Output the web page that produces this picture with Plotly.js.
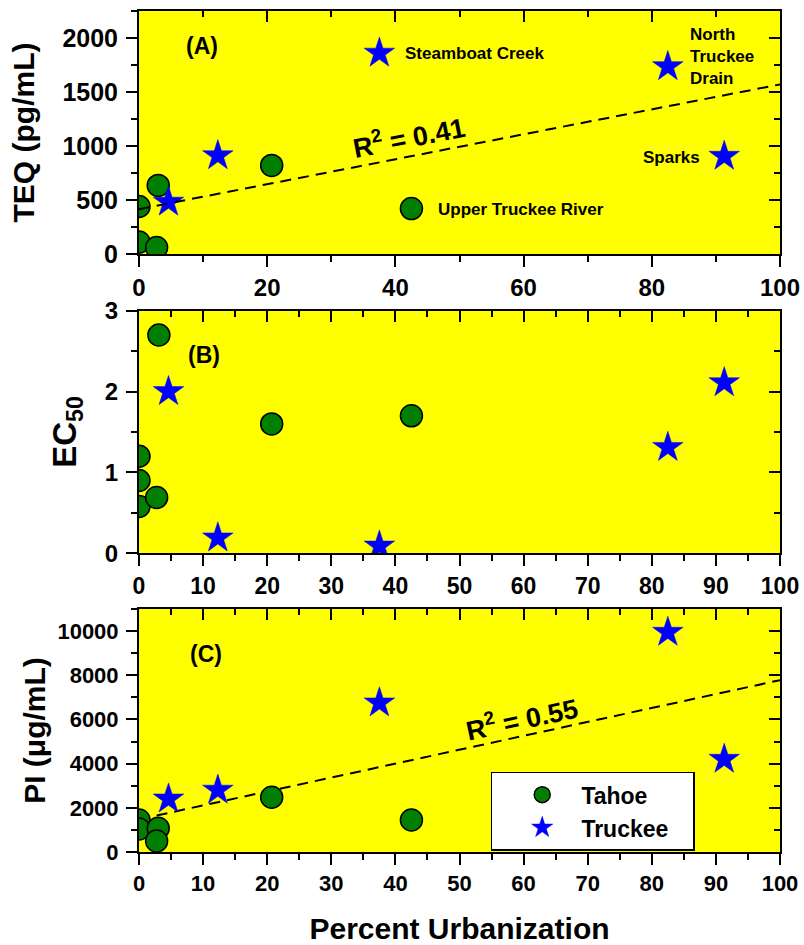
<!DOCTYPE html>
<html>
<head>
<meta charset="utf-8">
<script src="https://cdn.plot.ly/plotly-3.0.1.min.js"></script>
<style>html,body{margin:0;padding:0;background:#fff;}</style>
</head>
<body>
<div id="chart" style="width:804px;height:945px;"></div>
<script>
// ---- data ----
const tahoeX_A = [0, 0, 3.0, 2.75, 20.7, 42.5];
const tahoeTEQ = [440, 110, 635, 60, 820, 420];
const tahoeX_B = [0, 0, 0, 2.75, 3.1, 20.7, 42.5];
const tahoeEC50 = [1.2, 0.9, 0.58, 0.69, 2.7, 1.6, 1.7];
const tahoeX_C = [0, 0, 3.0, 2.75, 20.7, 42.5];
const tahoePI = [1450, 1040, 1070, 500, 2480, 1450];

const truckeeX = [4.6, 12.3, 37.5, 82.5, 91.3];
const truckeeTEQ = [480, 910, 1860, 1735, 905];
const truckeeEC50 = [2.0, 0.19, 0.09, 1.31, 2.11];
const truckeePI = [2400, 2800, 6750, 9950, 4200];

const fitX = [0, 100];
const fitTEQ = [415, 1570];
const fitPI = [1480, 7780];

const siteLabels = ["Steamboat Creek", "North<br>Truckee<br>Drain", "Sparks", "Upper Truckee River"];
const seriesNames = ["Tahoe", "Truckee"];

// ---- styling ----
const FONT = "Liberation Sans, Arial, Helvetica, sans-serif";
const green = "#007F00";
const blue = "#0000FF";
const yellow = "#FFFF00";
const circ = {symbol: "circle", size: 22, color: green, line: {color: "black", width: 1.5}};
const star = {symbol: "star", size: 23, color: blue, line: {color: blue, width: 0.5}};
const fitLine = {color: "black", width: 2, dash: "11px,7px"};
const lead = "\u00a0\u00a0\u00a0";
const trail = "\u00a0\u00a0\u00a0";

const traces = [
  {x: tahoeX_A, y: tahoeTEQ, xaxis: "x", yaxis: "y", mode: "markers", marker: circ, name: seriesNames[0], showlegend: false},
  {x: truckeeX, y: truckeeTEQ, xaxis: "x", yaxis: "y", mode: "markers", marker: star, name: seriesNames[1], showlegend: false},
  {x: fitX, y: fitTEQ, xaxis: "x", yaxis: "y", mode: "lines", line: fitLine, showlegend: false, hoverinfo: "skip"},
  {x: tahoeX_B, y: tahoeEC50, xaxis: "x2", yaxis: "y2", mode: "markers", marker: circ, name: seriesNames[0], showlegend: false},
  {x: truckeeX, y: truckeeEC50, xaxis: "x2", yaxis: "y2", mode: "markers", marker: star, name: seriesNames[1], showlegend: false},
  {x: fitX, y: fitPI, xaxis: "x3", yaxis: "y3", mode: "lines", line: fitLine, showlegend: false, hoverinfo: "skip"},
  {x: tahoeX_C, y: tahoePI, xaxis: "x3", yaxis: "y3", mode: "markers", marker: circ, name: lead + seriesNames[0] + trail, showlegend: true},
  {x: truckeeX, y: truckeePI, xaxis: "x3", yaxis: "y3", mode: "markers", marker: star, name: lead + seriesNames[1] + trail, showlegend: true}
];
// empty traces that carry the separate top/right (inward-tick) frame axes
[["x4", "y4"], ["x5", "y5"], ["x6", "y6"]].forEach(function (p) {
  traces.push({x: [null], y: [null], xaxis: p[0], yaxis: p[1], mode: "markers", showlegend: false, hoverinfo: "skip"});
});

const bold = (s) => ({family: FONT, size: s, color: "black", weight: "bold"});
const domA = [0.7111, 1], domB = [0.3552, 0.6436], domC = [0, 0.2889];

function mainX(dtick, anchor, fs, title) {
  const ax = {
    range: [0, 100], autorange: false, tickmode: "linear", tick0: 0, dtick: dtick,
    ticks: "outside", ticklen: 11, tickwidth: 2, tickcolor: "black",
    minor: {ticks: "outside", dtick: dtick / 2, ticklen: 6, tickwidth: 2, tickcolor: "black"},
    showline: true, linewidth: 2, linecolor: "black", mirror: true,
    showgrid: false, zeroline: false, tickfont: bold(fs), anchor: anchor, tickformat: "d"
  };
  if (title) ax.title = {text: title, font: bold(30), standoff: 26};
  return ax;
}
function frameX(dtick, anchor) {
  return {
    domain: [0, 1], range: [0, 100], autorange: false, tickmode: "linear", tick0: 0, dtick: dtick,
    side: "top", anchor: anchor,
    ticks: "inside", ticklen: 11, tickwidth: 2, tickcolor: "black",
    minor: {ticks: "inside", dtick: dtick / 2, ticklen: 6, tickwidth: 2, tickcolor: "black"},
    showline: false, showgrid: false, zeroline: false, showticklabels: false
  };
}
function mainY(range, dtick, domain, anchor, fs, title, tsize, standoff) {
  return {
    range: range, autorange: false, tickmode: "linear", tick0: 0, dtick: dtick, domain: domain,
    ticks: "outside", ticklen: 11, tickwidth: 2, tickcolor: "black",
    minor: {ticks: "outside", dtick: dtick / 2, ticklen: 6, tickwidth: 2, tickcolor: "black"},
    showline: true, linewidth: 2, linecolor: "black", mirror: true,
    showgrid: false, zeroline: false, tickfont: bold(fs), anchor: anchor, tickformat: "d",
    ticklabelstandoff: 3,
    title: {text: title, font: bold(tsize), standoff: standoff}
  };
}
function frameY(range, dtick, domain, anchor) {
  return {
    range: range, autorange: false, tickmode: "linear", tick0: 0, dtick: dtick, domain: domain,
    side: "right", anchor: anchor,
    ticks: "inside", ticklen: 11, tickwidth: 2, tickcolor: "black",
    minor: {ticks: "inside", dtick: dtick / 2, ticklen: 6, tickwidth: 2, tickcolor: "black"},
    showline: false, showgrid: false, zeroline: false, showticklabels: false
  };
}
// yellow plotting-area fill for each panel (drawn as a domain-referenced background)
const panelBg = (xr, yr) => ({type: "rect", xref: xr + " domain", yref: yr + " domain", x0: 0, x1: 1, y0: 0, y1: 1,
  fillcolor: yellow, line: {width: 0}, layer: "below"});

const layout = {
  width: 804, height: 945,
  margin: {l: 139, r: 24, t: 11, b: 93},
  paper_bgcolor: "white", plot_bgcolor: "rgba(0,0,0,0)",
  font: {family: FONT, color: "black", weight: "bold"},
  xaxis: mainX(20, "y", 24),
  xaxis2: mainX(10, "y2", 23),
  xaxis3: mainX(10, "y3", 22, "Percent Urbanization"),
  yaxis: mainY([0, 2250], 500, domA, "x", 25, "TEQ (pg/mL)", 30, 19),
  yaxis2: mainY([0, 3], 1, domB, "x2", 24, "EC<sub>50</sub>", 33, 18),
  yaxis3: mainY([0, 11000], 2000, domC, "x3", 22, "PI (μg/mL)", 30, 3),
  xaxis4: frameX(20, "y4"),
  xaxis5: frameX(10, "y5"),
  xaxis6: frameX(10, "y6"),
  yaxis4: frameY([0, 2250], 500, domA, "x4"),
  yaxis5: frameY([0, 3], 1, domB, "x5"),
  yaxis6: frameY([0, 11000], 2000, domC, "x6"),
  shapes: [panelBg("x", "y"), panelBg("x2", "y2"), panelBg("x3", "y3")],
  showlegend: true,
  legend: {
    x: 0.5487, y: 0.0955, xanchor: "left", yanchor: "top",
    bgcolor: "white", bordercolor: "black", borderwidth: 1.5,
    font: bold(23),
    itemsizing: "trace", traceorder: "normal", indentation: 30
  },
  annotations: [
    {xref: "x", yref: "y", x: 9.8, y: 1923, text: "(A)", showarrow: false, font: bold(23)},
    {xref: "x2", yref: "y2", x: 10.1, y: 2.45, text: "(B)", showarrow: false, font: bold(23)},
    {xref: "x3", yref: "y3", x: 10.5, y: 8967, text: "(C)", showarrow: false, font: bold(23)},
    {xref: "x", yref: "y", x: 41.2, y: 1858, text: siteLabels[0], xanchor: "left", showarrow: false, font: bold(17)},
    {xref: "x", yref: "y", x: 85.6, y: 1831, text: siteLabels[1], xanchor: "left", align: "left", showarrow: false, font: bold(17)},
    {xref: "x", yref: "y", x: 87.8, y: 897, text: siteLabels[2], xanchor: "right", showarrow: false, font: bold(17)},
    {xref: "x", yref: "y", x: 46.3, y: 416, text: siteLabels[3], xanchor: "left", showarrow: false, font: bold(17)},
    {xref: "x", yref: "y", x: 42.1, y: 1090, text: "R<sup>2</sup> = 0.41", textangle: -11, showarrow: false, font: bold(27)},
    {xref: "x3", yref: "y3", x: 59.6, y: 6058, text: "R<sup>2</sup> = 0.55", textangle: -12, showarrow: false, font: bold(27)}
  ]
};

Plotly.newPlot("chart", traces, layout, {displayModeBar: false, staticPlot: true});
</script>
</body>
</html>
